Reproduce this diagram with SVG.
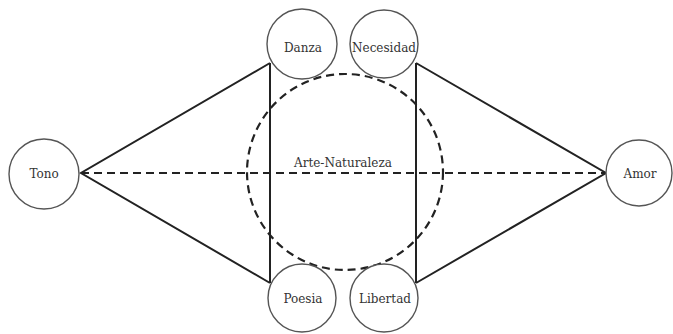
<svg xmlns="http://www.w3.org/2000/svg" width="673" height="334" viewBox="0 0 673 334">
<style>
.node circle{fill:#fff;stroke:#555;stroke-width:1.4}
.lbl{font-family:'DejaVu Serif','Liberation Serif',serif;font-size:12px;fill:#333;text-anchor:middle}
.solid{stroke:#222;stroke-width:2;fill:none}
.dash{stroke:#222;stroke-width:2.2;fill:none;stroke-dasharray:8,5}
</style>
<rect width="673" height="334" fill="#fff"/>
<g id="connectors">
<circle class="dash" cx="345" cy="172" r="98"/>
<line class="dash" x1="81" y1="173" x2="606" y2="173"/>
<polyline class="solid" points="270,63 81,173 270,283"/>
<line class="solid" x1="270" y1="63" x2="270" y2="283"/>
<polyline class="solid" points="416,63 606,173 416,283"/>
<line class="solid" x1="416" y1="63" x2="416" y2="283"/>
</g>
<text class="lbl" x="343" y="167">Arte-Naturaleza</text>
<g id="tono" class="node"><circle cx="44" cy="174" r="35"/><text class="lbl" x="44" y="178">Tono</text></g>
<g id="danza" class="node"><circle cx="302" cy="44" r="35"/><text class="lbl" x="303" y="52">Danza</text></g>
<g id="necesidad" class="node"><circle cx="384" cy="44" r="34"/><text class="lbl" x="384" y="52">Necesidad</text></g>
<g id="poesia" class="node"><circle cx="302" cy="298" r="34"/><text class="lbl" x="303" y="303">Poesia</text></g>
<g id="libertad" class="node"><circle cx="384" cy="298" r="34"/><text class="lbl" x="385" y="303">Libertad</text></g>
<g id="amor" class="node"><circle cx="639" cy="173" r="33"/><text class="lbl" x="640" y="178">Amor</text></g>
</svg>
